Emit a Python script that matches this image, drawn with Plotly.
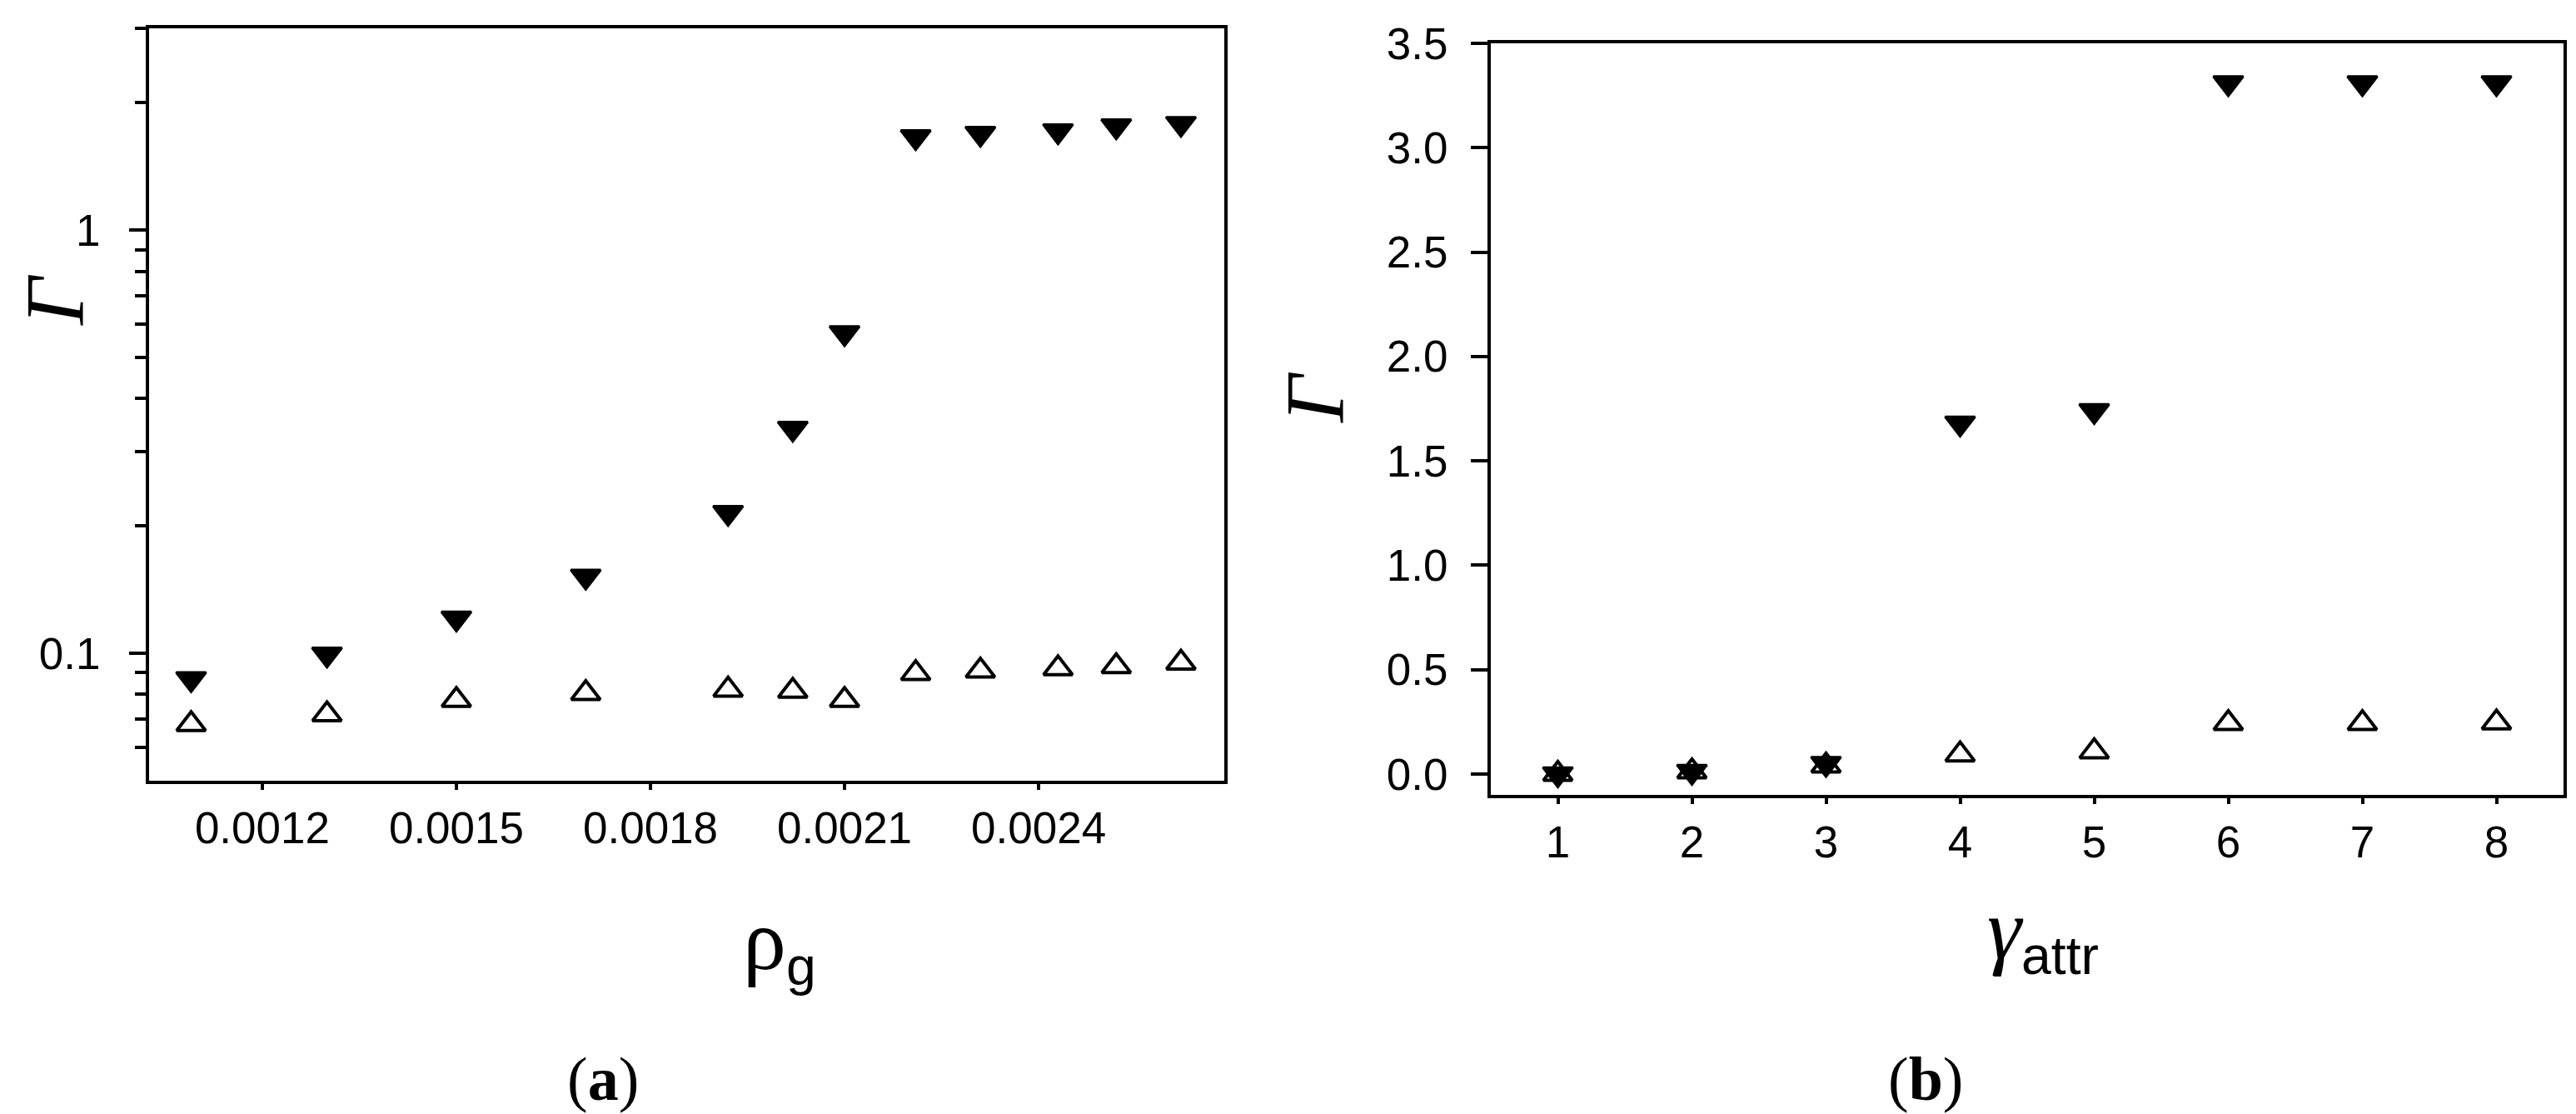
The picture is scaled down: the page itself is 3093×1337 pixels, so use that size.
import plotly.graph_objects as go
import math

# ---- data: panel (a) ----
rho_g = [0.00109, 0.0013, 0.0015, 0.0017, 0.00192, 0.00202, 0.0021,
         0.00221, 0.00231, 0.00243, 0.00252, 0.00262]
gamma_filled_a = [0.087, 0.0995, 0.121, 0.152, 0.215, 0.34, 0.572,
                  1.662, 1.692, 1.716, 1.762, 1.786]
gamma_open_a = [0.068, 0.0717, 0.0775, 0.0805, 0.082, 0.0815, 0.0775,
                0.0897, 0.091, 0.0921, 0.0932, 0.095]
xticks_a = [0.0012, 0.0015, 0.0018, 0.0021, 0.0024]
xticklabels_a = ["0.0012", "0.0015", "0.0018", "0.0021", "0.0024"]
yticks_a = [0.1, 1]
yticklabels_a = ["0.1", "1"]
yminor_a = [0.06, 0.07, 0.08, 0.09, 0.2, 0.3, 0.4, 0.5, 0.6, 0.7, 0.8, 0.9, 2, 3]

# ---- data: panel (b) ----
gamma_attr = [1, 2, 3, 4, 5, 6, 7, 8]
gamma_filled_b = [0.0, 0.012, 0.05, 1.68, 1.74, 3.31, 3.31, 3.31]
gamma_open_b = [0.0, 0.012, 0.04, 0.093, 0.108, 0.243, 0.243, 0.246]

W, H = 3093, 1337
tickfont = dict(family="Liberation Sans, Arial", size=53, color="black")
xrange_a = [0.001025, 0.002687]
xrange_b = [0.5, 8.5]

fig = go.Figure()

mk_filled = dict(symbol="triangle-down", size=31, color="black",
                 line=dict(color="black", width=3))
mk_open = dict(symbol="triangle-up-open", size=30, color="black",
               line=dict(color="black", width=4))

fig.add_trace(go.Scatter(x=rho_g, y=gamma_open_a, mode="markers",
                         marker=mk_open, xaxis="x", yaxis="y", showlegend=False))
fig.add_trace(go.Scatter(x=rho_g, y=gamma_filled_a, mode="markers",
                         marker=mk_filled, xaxis="x", yaxis="y", showlegend=False))
fig.add_trace(go.Scatter(x=gamma_attr, y=gamma_filled_b, mode="markers",
                         marker=mk_filled, xaxis="x2", yaxis="y2", showlegend=False))
fig.add_trace(go.Scatter(x=gamma_attr, y=gamma_open_b, mode="markers",
                         marker=mk_open, xaxis="x2", yaxis="y2", showlegend=False))

common = dict(showline=True, linewidth=4, linecolor="black", mirror=True,
              ticks="outside", ticklen=20, tickwidth=4, tickcolor="black",
              showgrid=False, zeroline=False, tickfont=tickfont,
              automargin=False)
xcommon = dict(common, ticklen=7)
# overlay axes that only carry the long x tick marks
tickonly = dict(showline=False, ticks="outside", ticklen=20, tickwidth=4,
                tickcolor="black", showgrid=False, zeroline=False,
                showticklabels=False, automargin=False)

fig.update_layout(
    width=W, height=H,
    margin=dict(l=0, r=0, t=0, b=0),
    paper_bgcolor="white", plot_bgcolor="white",
    xaxis=dict(domain=[171 / W, 1462 / W], anchor="y", range=xrange_a,
               tickmode="array", tickvals=xticks_a, ticktext=xticklabels_a,
               **xcommon),
    xaxis3=dict(overlaying="x", anchor="y", range=xrange_a,
                tickmode="array", tickvals=xticks_a, **tickonly),
    yaxis=dict(domain=[1 - 929 / H, 1 - 26 / H], anchor="x", type="log",
               range=[math.log10(0.05), math.log10(3)],
               tickmode="array", tickvals=yticks_a, ticktext=yticklabels_a,
               ticklabelstandoff=24,
               minor=dict(tickmode="array", tickvals=yminor_a, ticks="outside",
                          ticklen=13, tickwidth=4, tickcolor="black", showgrid=False),
               **common),
    xaxis2=dict(domain=[1782 / W, 3070 / W], anchor="y2", range=xrange_b,
                tickmode="linear", tick0=1, dtick=1, **xcommon),
    xaxis4=dict(overlaying="x2", anchor="y2", range=xrange_b,
                tickmode="linear", tick0=1, dtick=1, **tickonly),
    yaxis2=dict(domain=[1 - 946 / H, 1 - 44 / H], anchor="x2",
                range=[-0.1, 3.5], tickmode="linear", tick0=0, dtick=0.5,
                tickformat=".1f", ticklabelstandoff=17, **common),
)

ann_common = dict(xref="paper", yref="paper", showarrow=False)
gfont = dict(family="Liberation Serif", size=100, color="black")
fig.add_annotation(x=57 / W, y=1 - 352 / H, text="<i>Γ</i>", textangle=-90,
                   font=gfont, xanchor="center", yanchor="middle", **ann_common)
fig.add_annotation(x=1570 / W, y=1 - 469 / H, text="<i>Γ</i>", textangle=-90,
                   font=gfont, xanchor="center", yanchor="middle", **ann_common)

tfont = dict(family="Liberation Sans, Arial", size=92, color="black")
greek = '<span style="font-family:Liberation Serif;font-size:104px">{}</span>'
fig.add_annotation(x=928 / W, y=1 - 1125 / H, text=greek.format("ρ") + "<sub>g</sub>",
                   font=tfont, xanchor="center", yanchor="middle", **ann_common)
fig.add_annotation(x=2445 / W, y=1 - 1112 / H,
                   text=greek.format("<i>γ</i>") + "<sub>attr</sub>",
                   font=tfont, xanchor="center", yanchor="middle", **ann_common)

lfont = dict(family="Liberation Serif", size=74, color="black")
fig.add_annotation(x=716 / W, y=1 - 1287 / H, text="(<b>a</b>)",
                   font=lfont, xanchor="center", yanchor="middle", **ann_common)
fig.add_annotation(x=2304 / W, y=1 - 1287 / H, text="(<b>b</b>)",
                   font=lfont, xanchor="center", yanchor="middle", **ann_common)

fig.write_html("out.html")
